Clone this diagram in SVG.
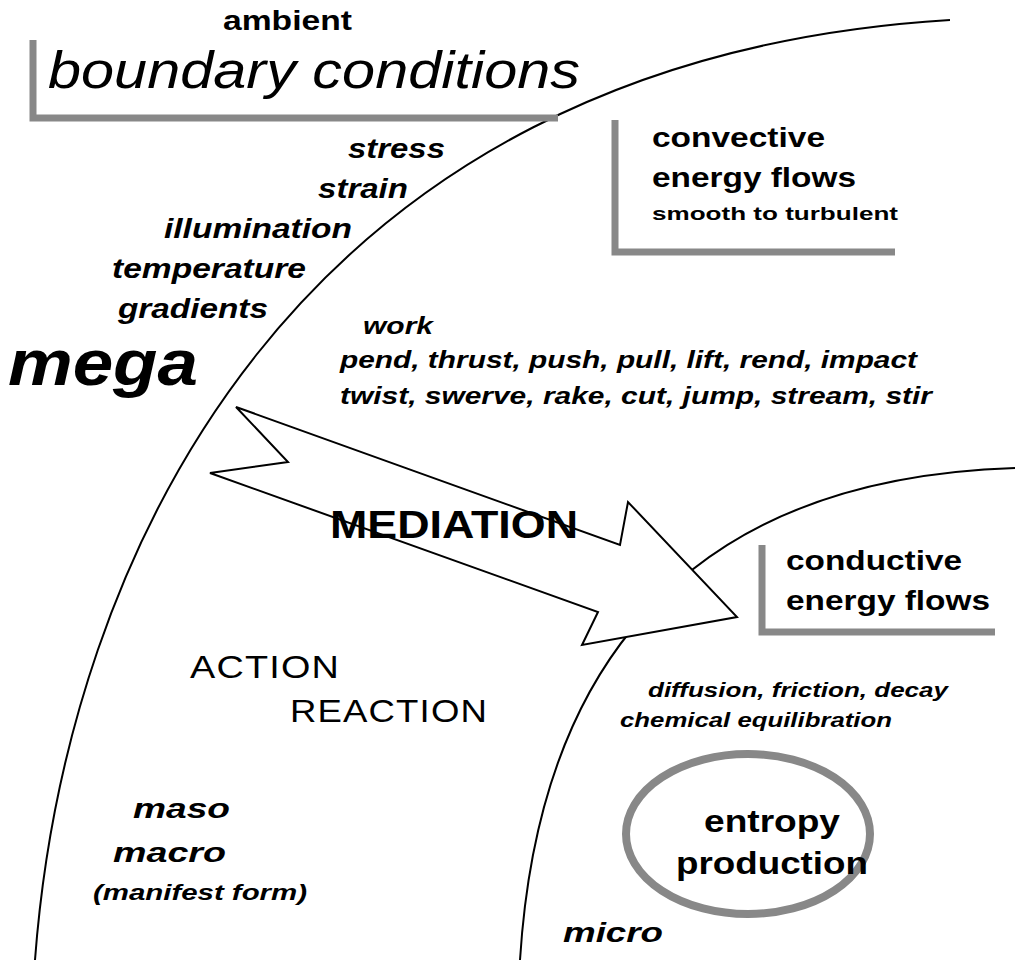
<svg xmlns="http://www.w3.org/2000/svg" width="1024" height="980" viewBox="0 0 1024 980">
<style>
.b{font-family:"Liberation Sans",Arial,sans-serif;font-weight:bold;fill:#000}
.bi{font-family:"Liberation Sans",Arial,sans-serif;font-weight:bold;font-style:italic;fill:#000}
.c{font-family:"Liberation Sans",Arial,sans-serif;fill:#000;letter-spacing:1px}
.g{fill:none;stroke:#888;stroke-width:7}
.l{fill:none;stroke:#000;stroke-width:2}
</style>
<rect width="1024" height="980" fill="#fff"/>
<g id="connectors">
<path class="l" d="M35,960 C65,560 290,60 950,20"/>
<path class="l" d="M520,960 C535,720 640,480 1015,468"/>
</g>
<g id="boundary">
<path class="g" d="M33,40 V118 H558"/>
<text class="b" x="223" y="30" font-size="27" textLength="129" lengthAdjust="spacingAndGlyphs">ambient</text>
<text x="48" y="88" font-family="Liberation Sans,Arial,sans-serif" font-style="italic" font-size="52" textLength="532" lengthAdjust="spacingAndGlyphs">boundary conditions</text>
</g>
<g id="stimuli">
<text class="bi" x="348" y="158" font-size="27" textLength="97" lengthAdjust="spacingAndGlyphs">stress</text>
<text class="bi" x="318" y="198" font-size="27" textLength="90" lengthAdjust="spacingAndGlyphs">strain</text>
<text class="bi" x="164" y="238" font-size="27" textLength="188" lengthAdjust="spacingAndGlyphs">illumination</text>
<text class="bi" x="112" y="278" font-size="27" textLength="194" lengthAdjust="spacingAndGlyphs">temperature</text>
<text class="bi" x="118" y="318" font-size="27" textLength="150" lengthAdjust="spacingAndGlyphs">gradients</text>
</g>
<g id="mega"><text class="bi" x="8" y="385" font-size="64" textLength="190" lengthAdjust="spacingAndGlyphs">mega</text></g>
<g id="convective">
<path class="g" d="M615,120 V252 H895"/>
<text class="b" x="652" y="147" font-size="27" textLength="173" lengthAdjust="spacingAndGlyphs">convective</text>
<text class="b" x="652" y="187" font-size="27" textLength="204" lengthAdjust="spacingAndGlyphs">energy flows</text>
<text class="b" x="652" y="220" font-size="19" textLength="246" lengthAdjust="spacingAndGlyphs">smooth to turbulent</text>
</g>
<g id="work">
<text class="bi" x="363" y="334" font-size="23" textLength="70" lengthAdjust="spacingAndGlyphs">work</text>
<text class="bi" x="340" y="368" font-size="23" textLength="577" lengthAdjust="spacingAndGlyphs">pend, thrust, push, pull, lift, rend, impact</text>
<text class="bi" x="340" y="404" font-size="23" textLength="592" lengthAdjust="spacingAndGlyphs">twist, swerve, rake, cut, jump, stream, stir</text>
</g>
<g id="mediation">
<polygon points="236,407 288,462 210,473 598,612 582,645 737,617 628,502 620,545" fill="#fff" stroke="#000" stroke-width="2"/>
<text class="b" x="330" y="538" font-size="38" textLength="248" lengthAdjust="spacingAndGlyphs">MEDIATION</text>
</g>
<g id="conductive">
<path class="g" d="M762,545 V632 H995"/>
<text class="b" x="786" y="570" font-size="27" textLength="176" lengthAdjust="spacingAndGlyphs">conductive</text>
<text class="b" x="786" y="610" font-size="27" textLength="204" lengthAdjust="spacingAndGlyphs">energy flows</text>
</g>
<g id="action">
<text class="c" x="190" y="678" font-size="32" textLength="150" lengthAdjust="spacingAndGlyphs">ACTION</text>
<text class="c" x="290" y="722" font-size="32" textLength="198" lengthAdjust="spacingAndGlyphs">REACTION</text>
</g>
<g id="diffusion">
<text class="bi" x="648" y="697" font-size="21" textLength="300" lengthAdjust="spacingAndGlyphs">diffusion, friction, decay</text>
<text class="bi" x="620" y="727" font-size="21" textLength="272" lengthAdjust="spacingAndGlyphs">chemical equilibration</text>
</g>
<g id="entropy">
<ellipse cx="748" cy="834" rx="122" ry="80" fill="none" stroke="#888" stroke-width="8"/>
<text class="b" x="704" y="832" font-size="32" textLength="136" lengthAdjust="spacingAndGlyphs">entropy</text>
<text class="b" x="676" y="874" font-size="32" textLength="192" lengthAdjust="spacingAndGlyphs">production</text>
</g>
<g id="macro">
<text class="bi" x="133" y="818" font-size="28" textLength="97" lengthAdjust="spacingAndGlyphs">maso</text>
<text class="bi" x="113" y="862" font-size="28" textLength="113" lengthAdjust="spacingAndGlyphs">macro</text>
<text class="bi" x="93" y="900" font-size="22" textLength="214" lengthAdjust="spacingAndGlyphs">(manifest form)</text>
</g>
<g id="micro"><text class="bi" x="563" y="942" font-size="28" textLength="100" lengthAdjust="spacingAndGlyphs">micro</text></g>
</svg>
